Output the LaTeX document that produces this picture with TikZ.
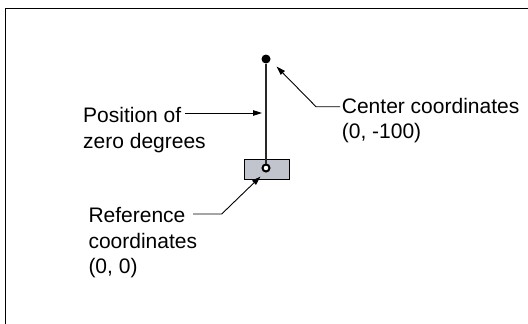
\documentclass[tikz,border=0pt]{standalone}
\usepackage{fontspec}
\setmainfont{Liberation Sans}
\usetikzlibrary{arrows.meta}
\definecolor{boxgray}{RGB}{193,196,204}
\definecolor{linegray}{RGB}{40,40,40}
\begin{document}
\begin{tikzpicture}[x=1pt,y=-1pt,
  lbl/.style={inner sep=0pt,anchor=base west,align=left,font=\fontsize{21}{25.5}\selectfont},
  lead/.style={draw=black,line width=0.9pt},
  arr/.style={lead,-{Triangle[length=9pt,width=5.5pt]}},
  dotnode/.style={circle,fill=black,inner sep=0pt,minimum size=9pt},
  ringnode/.style={circle,draw=black,fill=white,line width=2pt,inner sep=0pt,minimum size=7pt},
  boxnode/.style={rectangle,draw=black,fill=boxgray,line width=0.9pt,minimum width=45pt,minimum height=20pt,inner sep=0pt}]
\useasboundingbox (0,0) rectangle (528,324);
\clip (0,0) rectangle (528,324);
\draw[line width=1.4pt] (5.5,340) -- (5.5,8.5) -- (540,8.5);
% shapes
\node[boxnode] (box) at (266.5,169) {};
\node[dotnode] (ctr) at (266,59) {};
\node[ringnode] (ref) at (266,168) {};
\draw[linegray,line width=1.1pt] (ctr) -- (ref);
% labels (anchored at the baseline of their last line)
\node[lbl] (pos) at (83,148) {Position of\\zero degrees};
\node[lbl] (cen) at (341.7,138.8) {Center coordinates\\(0, -100)};
\node[lbl] (rfl) at (88.3,273.5) {Reference\\coordinates\\(0, 0)};
% connector coordinates
\coordinate (posS) at (185,113);
\coordinate (posE) at (262,113);
\coordinate (cenS) at (340,106.7);
\coordinate (cenB) at (316,106.7);
\coordinate (cenE) at (276.5,66.5);
\coordinate (rfS) at (193,214);
\coordinate (rfB) at (221.7,214);
\coordinate (rfE) at (260.5,176.5);
\draw[arr] (posS) -- (posE);
\draw[arr] (cenS) -- (cenB) -- (cenE);
\draw[arr] (rfS) -- (rfB) -- (rfE);
\end{tikzpicture}
\end{document}
